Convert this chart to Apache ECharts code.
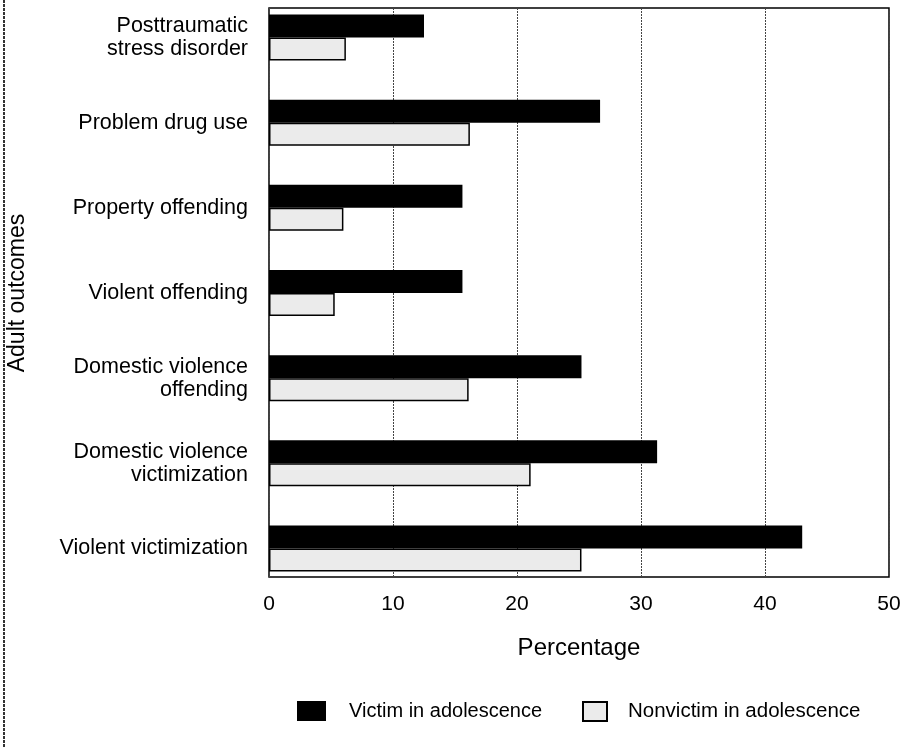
<!DOCTYPE html>
<html>
<head>
<meta charset="utf-8">
<script src="https://cdn.jsdelivr.net/npm/echarts@6/dist/echarts.min.js"></script>
<style>html,body{margin:0;padding:0;background:#fff}#c{width:906px;height:747px}</style>
</head>
<body>
<div id="c"></div>
<script>
const categories = [
  "Posttraumatic\nstress disorder",
  "Problem drug use",
  "Property offending",
  "Violent offending",
  "Domestic violence\noffending",
  "Domestic violence\nvictimization",
  "Violent victimization"
];
const victim = [12.5, 26.7, 15.6, 15.6, 25.2, 31.3, 43.0];
const nonvictim = [6.2, 16.2, 6.0, 5.3, 16.1, 21.1, 25.2];
const xTicks = [0, 10, 20, 30, 40, 50];
const seriesNames = ["Victim in adolescence", "Nonvictim in adolescence"];

const font = "'Liberation Sans', Arial, sans-serif";
const chart = echarts.init(document.getElementById('c'), null, {renderer: 'canvas'});
chart.setOption({
  animation: false,
  backgroundColor: '#fff',
  textStyle: {fontFamily: font, color: '#000'},
  graphic: [{
    type: 'line', shape: {x1: 4, y1: 0, x2: 4, y2: 747},
    style: {stroke: '#333', lineWidth: 2, lineDash: [3, 1]}
  }],
  grid: [
    {left: 269, top: 8, width: 620, height: 569, show: true, borderColor: '#000', borderWidth: 1.5,
     backgroundColor: 'transparent', outerBoundsMode: 'none', containLabel: false},
    {left: 269, top: -5, width: 620, height: 596, outerBoundsMode: 'none', containLabel: false}
  ],
  xAxis: [
    {gridIndex: 0, type: 'value', min: xTicks[0], max: xTicks[xTicks.length - 1], interval: 10,
     axisLine: {show: false}, axisTick: {show: false},
     axisLabel: {color: '#000', fontSize: 21, fontFamily: font, margin: 17},
     splitLine: {show: true, lineStyle: {color: '#444', width: 1, type: [2, 1]}},
     name: 'Percentage', nameLocation: 'middle', nameGap: 59,
     nameTextStyle: {color: '#000', fontSize: 24, fontFamily: font}},
    {gridIndex: 1, type: 'value', min: 0, max: 50, show: false}
  ],
  yAxis: [
    {gridIndex: 0, type: 'value', show: false},
    {gridIndex: 1, type: 'category', data: categories, inverse: true,
     axisLine: {show: false}, axisTick: {show: false}, splitLine: {show: false},
     axisLabel: {color: '#000', fontSize: 21.5, fontFamily: font, margin: 21, lineHeight: 23, align: 'right'},
     name: 'Adult outcomes', nameLocation: 'middle', nameRotate: 90, nameGap: 240,
     nameTextStyle: {color: '#000', fontSize: 23, fontFamily: font}}
  ],
  legend: [
    {data: [seriesNames[0]], left: 292, top: 696, itemWidth: 29, itemHeight: 20, icon: 'rect',
     textStyle: {fontSize: 20, fontFamily: font, color: '#000', padding: [0, 0, 0, 18]}},
    {data: [seriesNames[1]], left: 577, top: 696, itemWidth: 24, itemHeight: 19, icon: 'rect',
     textStyle: {fontSize: 20.5, fontFamily: font, color: '#000', padding: [0, 0, 0, 16]}}
  ],
  series: [
    {name: seriesNames[0], type: 'bar', xAxisIndex: 1, yAxisIndex: 1, data: victim,
     barWidth: 23, barGap: '0%', itemStyle: {color: '#000'}},
    {name: seriesNames[1], type: 'bar', xAxisIndex: 1, yAxisIndex: 1, data: nonvictim,
     barWidth: 23, barGap: '0%', itemStyle: {color: '#ebebeb', borderColor: '#000', borderWidth: 1.5}}
  ]
});
</script>
</body>
</html>
